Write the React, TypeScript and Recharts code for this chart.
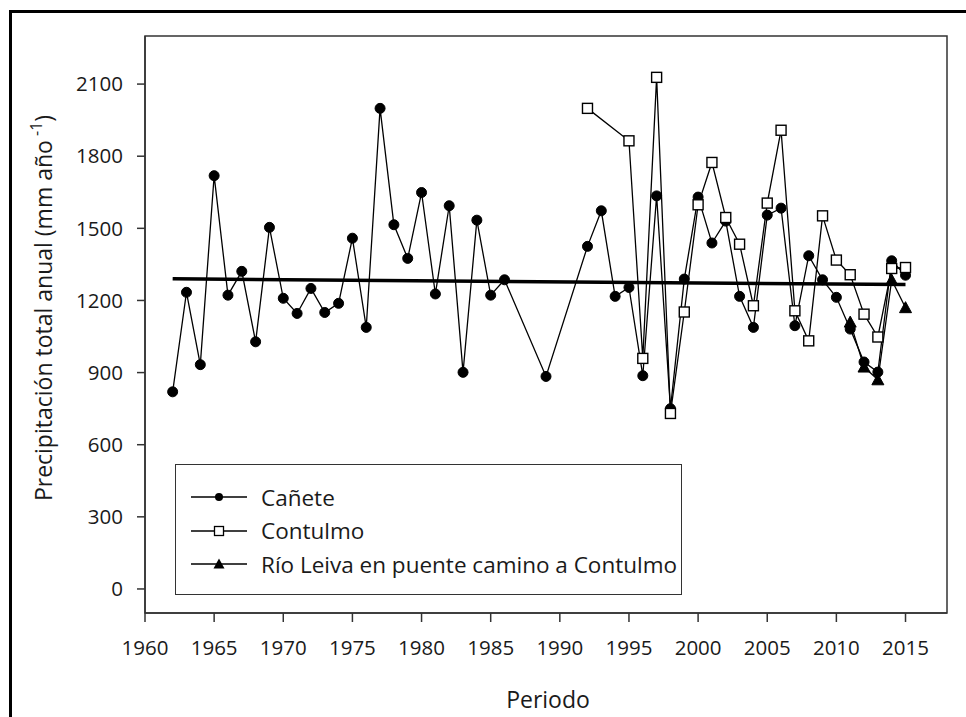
import React from 'react';
import {
  LineChart,
  Line,
  XAxis,
  YAxis,
  ReferenceArea,
  Customized,
} from 'recharts';

// ============================================
// DATA
// ============================================

const caneteYears = [
  1962, 1963, 1964, 1965, 1966, 1967, 1968, 1969, 1970, 1971, 1972, 1973, 1974,
  1975, 1976, 1977, 1978, 1979, 1980, 1981, 1982, 1983, 1984, 1985, 1986, 1989,
  1992, 1993, 1994, 1995, 1996, 1997, 1998, 1999, 2000, 2001, 2002, 2003, 2004,
  2005, 2006, 2007, 2008, 2009, 2010, 2011, 2012, 2013, 2014, 2015,
];
const caneteValues = [
  820, 1234, 933, 1719, 1222, 1321, 1028, 1504, 1209, 1146, 1250, 1150, 1188,
  1459, 1088, 1999, 1515, 1375, 1649, 1227, 1594, 901, 1534, 1222, 1286, 884,
  1425, 1573, 1217, 1254, 887, 1635, 750, 1289, 1630, 1439, 1530, 1217, 1088,
  1555, 1584, 1095, 1386, 1286, 1213, 1081, 944, 902, 1365, 1305,
];

const contulmoYears = [
  1992, 1995, 1996, 1997, 1998, 1999, 2000, 2001, 2002, 2003, 2004, 2005, 2006,
  2007, 2008, 2009, 2010, 2011, 2012, 2013, 2014, 2015,
];
const contulmoValues = [
  1999, 1864, 959, 2128, 730, 1152, 1598, 1774, 1545, 1434, 1178, 1605, 1908,
  1157, 1032, 1552, 1368, 1307, 1143, 1048, 1333, 1337,
];

const leivaYears = [2011, 2012, 2013, 2014, 2015];
const leivaValues = [1110, 923, 870, 1285, 1170];

// trend line, read at both ends
const trendYears = [1962, 2015];
const trendValues = [1290, 1266];

const xTicks = [1960, 1965, 1970, 1975, 1980, 1985, 1990, 1995, 2000, 2005, 2010, 2015];
const yTicks = [0, 300, 600, 900, 1200, 1500, 1800, 2100];

const seriesNames = ['Cañete', 'Contulmo', 'Río Leiva en puente camino a Contulmo'];

// build the table recharts needs
const allYears = Array.from(
  new Set([...caneteYears, ...contulmoYears, ...leivaYears, ...trendYears])
).sort((a, b) => a - b);

const pick = (years: number[], values: number[], y: number) => {
  const i = years.indexOf(y);
  return i >= 0 ? values[i] : null;
};

const chartData = allYears.map((year) => ({
  year,
  canete: pick(caneteYears, caneteValues, year),
  contulmo: pick(contulmoYears, contulmoValues, year),
  leiva: pick(leivaYears, leivaValues, year),
  trend: pick(trendYears, trendValues, year),
}));

// ============================================
// STYLE
// ============================================

const FONT = '"Open Sans", sans-serif';
const AXIS_COLOR = '#333';
const TEXT_COLOR = '#1a1a1a';

// ============================================
// MARKERS
// ============================================

const SquareDot = (props: any) => {
  const { cx, cy, index } = props;
  if (cx == null || cy == null || isNaN(cx) || isNaN(cy)) return <g key={`sq-${index}`} />;
  return (
    <rect
      key={`sq-${index}`}
      x={cx - 5}
      y={cy - 5}
      width={10}
      height={10}
      fill="#fff"
      stroke="#000"
      strokeWidth={1.4}
    />
  );
};

const TriangleDot = (props: any) => {
  const { cx, cy, index } = props;
  if (cx == null || cy == null || isNaN(cx) || isNaN(cy)) return <g key={`tr-${index}`} />;
  return (
    <polygon
      key={`tr-${index}`}
      points={`${cx},${cy - 6} ${cx - 6},${cy + 5} ${cx + 6},${cy + 5}`}
      fill="#000"
      stroke="#000"
    />
  );
};

// ============================================
// LABELS
// ============================================

const AxisTitles = () => (
  <g fontFamily={FONT} fill={TEXT_COLOR}>
    <text
      x={52}
      y={308}
      fontSize={23}
      textAnchor="middle"
      transform="rotate(-90, 52, 308)"
    >
      Precipitación total anual (mm año
      <tspan fontSize={16} dy={-10}> -1</tspan>
      <tspan dy={10}>)</tspan>
    </text>
    <text x={548} y={708} fontSize={23} textAnchor="middle">
      Periodo
    </text>
  </g>
);

// ============================================
// LEGEND
// ============================================

const LegendIcon = ({ kind }: { kind: number }) => (
  <svg width={60} height={16} style={{ display: 'block' }}>
    <line x1={2} y1={8} x2={58} y2={8} stroke="#000" strokeWidth={1.3} />
    {kind === 0 && <circle cx={30} cy={8} r={4} fill="#000" />}
    {kind === 1 && (
      <rect x={25.5} y={3.5} width={9} height={9} fill="#fff" stroke="#000" strokeWidth={1.3} />
    )}
    {kind === 2 && <polygon points="30,2.5 24.5,12.5 35.5,12.5" fill="#000" />}
  </svg>
);

const ChartLegend = () => (
  <div
    style={{
      position: 'absolute',
      left: 175,
      top: 464,
      width: 505,
      height: 129,
      border: `1.5px solid ${AXIS_COLOR}`,
      background: '#fff',
    }}
  >
    {seriesNames.map((name, i) => (
      <div
        key={name}
        style={{
          position: 'absolute',
          left: 13,
          top: 19 + i * 33.5,
          display: 'flex',
          alignItems: 'center',
          gap: 12,
          height: 26,
        }}
      >
        <LegendIcon kind={i} />
        <span style={{ fontFamily: FONT, fontSize: 22.5, color: TEXT_COLOR, whiteSpace: 'nowrap' }}>
          {name}
        </span>
      </div>
    ))}
  </div>
);

// ============================================
// MAIN COMPONENT
// ============================================

export default function App() {
  return (
    <div
      style={{
        position: 'absolute',
        left: 0,
        top: 0,
        width: 966,
        height: 717,
        background: '#fff',
        overflow: 'hidden',
      }}
    >
      {/* outer frame, only left and top edges show */}
      <div
        style={{
          position: 'absolute',
          left: 9,
          top: 10,
          width: 1000,
          height: 1000,
          borderLeft: '3px solid #000',
          borderTop: '3px solid #000',
        }}
      />

      <div style={{ position: 'absolute', left: 0, top: 0 }}>
        <LineChart
          width={966}
          height={717}
          data={chartData}
          margin={{ top: 36, right: 19, bottom: 44, left: 0 }}
        >
          <XAxis
            dataKey="year"
            type="number"
            domain={[1960, 2018]}
            ticks={xTicks}
            interval={0}
            height={60}
            axisLine={{ stroke: AXIS_COLOR, strokeWidth: 1.5 }}
            tickLine={{ stroke: AXIS_COLOR, strokeWidth: 1.5 }}
            tickSize={9}
            tickMargin={18}
            tick={{ fontFamily: FONT, fontSize: 20.5, fill: TEXT_COLOR }}
          />
          <YAxis
            type="number"
            domain={[-100, 2300]}
            ticks={yTicks}
            interval={0}
            width={145}
            axisLine={{ stroke: AXIS_COLOR, strokeWidth: 1.5 }}
            tickLine={{ stroke: AXIS_COLOR, strokeWidth: 1.5 }}
            tickSize={8}
            tickMargin={14}
            tick={{ fontFamily: FONT, fontSize: 20.5, fill: TEXT_COLOR }}
          />

          {/* plot box */}
          <ReferenceArea
            x1={1960}
            x2={2018}
            y1={-100}
            y2={2300}
            fill="none"
            stroke={AXIS_COLOR}
            strokeWidth={1.5}
          />

          {/* trend */}
          <Line
            type="linear"
            dataKey="trend"
            stroke="#000"
            strokeWidth={3.5}
            dot={false}
            activeDot={false}
            connectNulls
            isAnimationActive={false}
          />

          <Line
            type="linear"
            dataKey="canete"
            stroke="#000"
            strokeWidth={1.3}
            dot={{ r: 5, fill: '#000', stroke: '#000', strokeWidth: 1 }}
            activeDot={false}
            connectNulls
            isAnimationActive={false}
          />
          <Line
            type="linear"
            dataKey="contulmo"
            stroke="#000"
            strokeWidth={1.3}
            dot={SquareDot}
            activeDot={false}
            connectNulls
            isAnimationActive={false}
          />
          <Line
            type="linear"
            dataKey="leiva"
            stroke="#000"
            strokeWidth={1.3}
            dot={TriangleDot}
            activeDot={false}
            connectNulls
            isAnimationActive={false}
          />

          <Customized component={AxisTitles} />
        </LineChart>
      </div>

      <ChartLegend />
    </div>
  );
}
